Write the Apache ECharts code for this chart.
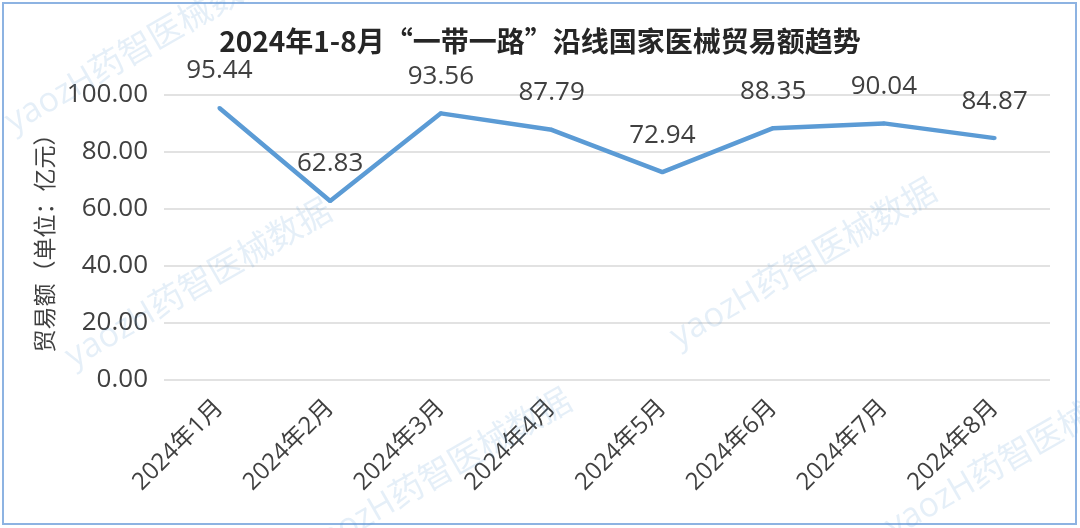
<!DOCTYPE html>
<html>
<head>
<meta charset="utf-8">
<script src="https://cdn.jsdelivr.net/npm/echarts@6/dist/echarts.min.js"></script>
<style>
  html, body { margin: 0; padding: 0; background: #fff; }
  #chart { width: 1080px; height: 528px; }
</style>
</head>
<body>
<div id="chart"></div>
<script>
const months = ["2024年1月", "2024年2月", "2024年3月", "2024年4月", "2024年5月", "2024年6月", "2024年7月", "2024年8月"];
const tradeValues = [95.44, 62.83, 93.56, 87.79, 72.94, 88.35, 90.04, 84.87];

const font = "'Open Sans', 'Noto Sans CJK SC', sans-serif";
const cjkFont = "'Noto Sans CJK SC', sans-serif";
const watermark = (x, y) => ({
  type: "text",
  x, y,
  rotation: Math.PI / 6,
  style: {
    text: "yaozH药智医械数据",
    fill: "rgba(91,155,213,0.16)",
    font: "34px " + font,
  },
  silent: true,
  z: 100,
});

const chart = echarts.init(document.getElementById("chart"));
chart.setOption({
  animation: false,
  backgroundColor: "#fff",
  title: {
    text: "2024年1-8月“一带一路”沿线国家医械贸易额趋势",
    left: "center",
    top: 22,
    textStyle: { fontFamily: cjkFont, fontSize: 28, fontWeight: "bold", color: "#262626" },
  },
  graphic: [
    {
      type: "rect",
      shape: { x: 3, y: 3, width: 1073, height: 521 },
      style: { fill: "none", stroke: "#8db3e2", lineWidth: 2 },
      silent: true,
    },
    watermark(0, 110),
    watermark(60, 345),
    watermark(665, 325),
    watermark(880, 515),
    watermark(300, 535),
  ],
  grid: { left: 164, right: 30, top: 95, bottom: 148 },
  xAxis: {
    type: "category",
    data: months,
    boundaryGap: true,
    axisLine: { show: false },
    axisTick: { show: false },
    axisLabel: {
      rotate: 45,
      color: "#404040",
      fontSize: 24,
      fontFamily: font,
      margin: 24,
    },
  },
  yAxis: {
    type: "value",
    min: 0,
    max: 100,
    interval: 20,
    name: "贸易额（单位：亿元）",
    nameLocation: "middle",
    nameGap: 97,
    nameRotate: 90,
    nameTextStyle: { color: "#404040", fontSize: 23, fontFamily: cjkFont },
    axisLine: { show: false },
    axisTick: { show: false },
    axisLabel: {
      color: "#404040",
      fontSize: 26,
      fontFamily: font,
      margin: 16,
      formatter: (v) => v.toFixed(2),
    },
    splitLine: { lineStyle: { color: "#d9d9d9", width: 1.5 } },
  },
  series: [
    {
      type: "line",
      data: tradeValues,
      showSymbol: true,
      symbol: "circle",
      symbolSize: 4,
      itemStyle: { color: "#5b9bd5" },
      lineStyle: { color: "#5b9bd5", width: 4.5 },
      label: {
        show: true,
        position: "top",
        distance: 22,
        color: "#404040",
        fontSize: 26,
        fontFamily: font,
        formatter: (p) => p.value.toFixed(2),
      },
    },
  ],
});
</script>
</body>
</html>
